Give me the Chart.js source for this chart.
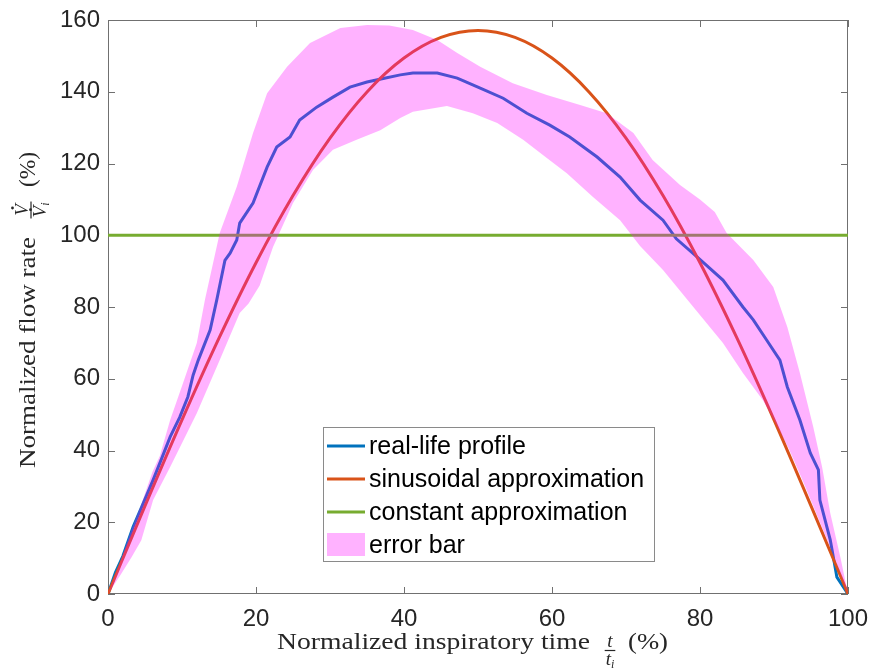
<!DOCTYPE html>
<html>
<head>
<meta charset="UTF-8">
<title>Normalized flow rate</title>
<script src="https://cdn.jsdelivr.net/npm/chart.js@4.4.1/dist/chart.umd.min.js"></script>
<style>
	body { margin: 0; background: #fff; }
</style>
</head>
<body>
	<canvas id="flowChart" width="870" height="669"></canvas>

	<script>
		// measured profile (x: % of inspiratory time, y: % of mean flow)
		const xReal = [0, 1, 2, 3.4, 4.5, 6.1, 7.3, 8.4, 9.7, 10.8, 11.5, 12.2, 13.8, 14.7, 15.8, 16.5, 17.4, 17.8, 19.6, 21.5,
			22.8, 24.6, 25.9, 28.2, 30.4, 32.7, 35, 37.2, 39.5, 41.2, 44.5, 47.2, 50.3, 53.4, 56.6, 59.7, 62.4, 66.1, 69.2, 71.9,
			75, 76.8, 79.6, 83.1, 85.8, 87.2, 89, 90.8, 91.8, 93.5, 94.9, 96, 96.2, 97.6, 98.5, 100];
		const yReal = [0, 6, 10.5, 18.7, 24, 31.8, 38, 43.8, 49.3, 55, 61, 65.2, 73.6, 82, 93, 95, 98.7, 103.4, 109, 119,
			124.6, 127.4, 132.1, 135.7, 138.5, 141.3, 142.7, 143.7, 144.7, 145.2, 145.2, 143.8, 141, 138.2, 134, 130.7, 127.4, 121.8, 116.2, 109.8,
			104.2, 99, 94, 87.5, 80, 76.4, 70.8, 65.2, 57.7, 48.5, 39.3, 34.6, 26.2, 15.1, 4.7, 0];

		// sinusoidal approximation, peak 157 at mid-inspiration
		const xSin = [0, 5, 10, 15, 20, 25, 30, 35, 40, 45, 50, 55, 60, 65, 70, 75, 80, 85, 90, 95, 100];
		const ySin = [0, 24.57, 48.54, 71.31, 92.33, 111.07, 127.08, 139.96, 149.39, 155.14, 157.08,
			155.14, 149.39, 139.96, 127.08, 111.07, 92.33, 71.31, 48.54, 24.57, 0];

		// constant approximation
		const xConst = [0, 100];
		const yConst = [100, 100];

		// error band, upper and lower edges
		const xUpper = [0, 1.5, 3, 4.5, 6, 7, 8.4, 10, 12, 13.1, 15.1, 17.4, 19.6, 21.5, 24.2, 27.3, 31.4, 35, 38, 41.2,
			44.5, 47.2, 50.3, 54.7, 59.3, 63.8, 67.4, 71, 73.6, 77.3, 80, 82, 83.6, 87.2, 89.9, 91.8, 93.5, 95.3, 96.5, 97.6, 99, 100];
		const yUpper = [0, 8, 17, 25, 34, 38.5, 48.5, 58, 70, 82, 100.6, 113.5, 128.5, 139.6, 147, 153.6, 157.8, 158.6, 158.5, 157.2,
			154.4, 150.8, 147, 142.4, 139.1, 136.3, 134, 128.5, 121, 114, 110, 106.5, 100.6, 93.1, 85.6, 74.4, 61.6, 46.6, 35.4, 22.6, 10, 0];
		const xLower = [0, 1.6, 3.2, 4.5, 6.1, 8.4, 12, 15.1, 17.8, 19, 20.5, 22.3, 25, 27.7, 30.4, 33.6, 36.8, 39.5, 41.2, 45.8,
			49.3, 52.6, 56.1, 59.3, 62, 65.5, 69.2, 71.9, 75, 79.1, 83.1, 85.8, 88.5, 90, 92, 94, 96, 98, 99, 100];
		const yLower = [0, 5, 10.3, 15, 26.2, 35.4, 50.4, 65.2, 78.3, 81, 86, 96.7, 109, 118.2, 123.8, 126.6, 129.3, 132.7, 134.4, 136,
			134, 131.3, 126.6, 121.5, 117.3, 110.7, 104.2, 97, 90.3, 80, 70, 61.6, 54, 48.5, 40.5, 31, 21, 11, 5.5, 0];

		const xTicks = [0, 20, 40, 60, 80, 100];
		const yTicks = [0, 20, 40, 60, 80, 100, 120, 140, 160];

		const seriesNames = ['real-life profile', 'sinusoidal approximation', 'constant approximation', 'error bar'];
		const colors = ['#0072BD', '#D95319', '#77AC30', 'rgba(255,0,255,0.3)'];
	</script>

	<script>
		const SANS = '"Liberation Sans", Arial, Helvetica, sans-serif';
		const SERIF = '"Liberation Serif", "Times New Roman", serif';

		function pts(xs, ys) {
			return xs.map((x, i) => ({ x: x, y: ys[i] }));
		}

		// closed outline: upper edge left->right, lower edge back right->left
		const bandOutline = pts(xUpper, yUpper).concat(pts(xLower, yLower).reverse());

		// italic fraction like \frac{num}{den_sub}, centred on cx
		function drawFraction(ctx, cx, numY, barY, denY, num, den, sub, dotted) {
			ctx.font = 'italic 19px ' + SERIF;
			ctx.textAlign = 'center';
			ctx.fillText(num, cx, numY);
			const nw = ctx.measureText(num).width;
			const dw = ctx.measureText(den).width;
			ctx.font = 'italic 12px ' + SERIF;
			const sw = ctx.measureText(sub).width;
			const half = Math.max(nw, dw + sw) / 2 + 1;
			ctx.fillRect(cx - half, barY - 0.6, half * 2, 1.2);
			ctx.font = 'italic 19px ' + SERIF;
			ctx.textAlign = 'left';
			const dx = cx - (dw + sw) / 2;
			ctx.fillText(den, dx, denY);
			ctx.font = 'italic 12px ' + SERIF;
			ctx.fillText(sub, dx + dw, denY + 3);
			if (dotted) {
				ctx.beginPath();
				ctx.arc(cx + 2, numY - 15.5, 1.4, 0, Math.PI * 2);
				ctx.arc(dx + dw / 2 + 2, denY - 15.5, 1.4, 0, Math.PI * 2);
				ctx.fill();
			}
			ctx.textAlign = 'left';
		}

		// text drawn along +x from the local origin (baseline), stretched to a width
		function stretchedText(ctx, text, x, width) {
			ctx.font = '23px ' + SERIF;
			const w = ctx.measureText(text).width;
			ctx.save();
			ctx.translate(x, 0);
			ctx.scale(width / w, 1);
			ctx.fillText(text, 0, 0);
			ctx.restore();
		}

		const axesBox = {
			id: 'axesBox',
			beforeDatasetsDraw(chart) {
				const { ctx, chartArea: a, scales } = chart;
				ctx.save();
				ctx.strokeStyle = '#707070';
				ctx.lineWidth = 1;
				ctx.strokeRect(a.left + 0.5, a.top + 0.5, a.right - a.left - 1, a.bottom - a.top - 1);
				ctx.beginPath();
				xTicks.forEach(v => {
					const px = Math.round(scales.x.getPixelForValue(v)) + 0.5;
					ctx.moveTo(px, a.bottom); ctx.lineTo(px, a.bottom - 7);
					ctx.moveTo(px, a.top); ctx.lineTo(px, a.top + 7);
				});
				yTicks.forEach(v => {
					const py = Math.round(scales.y.getPixelForValue(v)) + 0.5;
					ctx.moveTo(a.left, py); ctx.lineTo(a.left + 7, py);
					ctx.moveTo(a.right, py); ctx.lineTo(a.right - 7, py);
				});
				ctx.stroke();
				ctx.restore();
			},
			afterDraw(chart) {
				const { ctx, chartArea: a } = chart;
				ctx.save();

				// legend
				const lx = a.left + 215, ly = a.top + 407, lw = 331, lh = 134;
				ctx.fillStyle = '#fff';
				ctx.fillRect(lx, ly, lw, lh);
				ctx.strokeStyle = '#8a8a8a';
				ctx.lineWidth = 1;
				ctx.strokeRect(lx + 0.5, ly + 0.5, lw, lh);
				ctx.font = '25px ' + SANS;
				ctx.textBaseline = 'middle';
				seriesNames.forEach((name, i) => {
					const ry = ly + 19 + i * 33;
					if (i < 3) {
						ctx.strokeStyle = colors[i];
						ctx.lineWidth = 3;
						ctx.beginPath();
						ctx.moveTo(lx + 4, ry);
						ctx.lineTo(lx + 42, ry);
						ctx.stroke();
					} else {
						ctx.fillStyle = colors[i];
						ctx.fillRect(lx + 4, ry - 12, 38, 23);
					}
					ctx.fillStyle = '#000';
					ctx.fillText(name, lx + 46, ry + 1);
				});

				// axis titles
				ctx.fillStyle = '#262626';
				ctx.textBaseline = 'alphabetic';

				ctx.save();
				ctx.translate(277, a.bottom + 55);
				stretchedText(ctx, 'Normalized inspiratory time', 0, 313);
				drawFraction(ctx, 333, -2, 1.5, 16, 't', 't', 'i', false);
				stretchedText(ctx, '(%)', 351, 40);
				ctx.restore();

				ctx.save();
				ctx.translate(35, a.bottom - 126);
				ctx.rotate(-Math.PI / 2);
				stretchedText(ctx, 'Normalized flow rate', 0, 231);
				drawFraction(ctx, 258, -7, -4, 11, 'V', 'V', 'i', true);
				stretchedText(ctx, '(%)', 281, 35);
				ctx.restore();

				ctx.restore();
			}
		};

		new Chart('flowChart', {
			type: 'line',
			data: {
				datasets: [
					{ label: seriesNames[0], data: pts(xReal, yReal), borderColor: colors[0], borderWidth: 3, order: 4 },
					{ label: seriesNames[1], data: pts(xSin, ySin), borderColor: colors[1], borderWidth: 3, order: 3, cubicInterpolationMode: 'monotone' },
					{ label: seriesNames[2], data: pts(xConst, yConst), borderColor: colors[2], borderWidth: 3, order: 2 },
					{ label: seriesNames[3], data: bandOutline, borderWidth: 0, borderColor: 'rgba(0,0,0,0)', backgroundColor: colors[3], fill: 'shape', order: 1 }
				]
			},
			options: {
				responsive: false,
				animation: false,
				events: [],
				layout: { padding: { left: 0, right: 22, top: 20, bottom: 0 } },
				elements: { point: { radius: 0 }, line: { tension: 0 } },
				plugins: { legend: { display: false }, tooltip: { enabled: false } },
				scales: {
					x: {
						type: 'linear', min: 0, max: 100,
						grid: { display: false, drawTicks: false },
						border: { display: false },
						ticks: { stepSize: 20, autoSkip: false, maxRotation: 0, padding: 11, color: '#262626', font: { family: SANS, size: 24 } },
						afterFit(scale) {
							scale.height = 75;
							scale.paddingLeft = 0;
							scale.paddingRight = 0;
						}
					},
					y: {
						type: 'linear', min: 0, max: 160,
						grid: { display: false, drawTicks: false },
						border: { display: false },
						ticks: { stepSize: 20, autoSkip: false, padding: 8, color: '#262626', font: { family: SANS, size: 24 } },
						afterFit(scale) {
							scale.width = 108;
							scale.paddingTop = 0;
							scale.paddingBottom = 0;
						}
					}
				}
			},
			plugins: [axesBox]
		});
	</script>
</body>
</html>
